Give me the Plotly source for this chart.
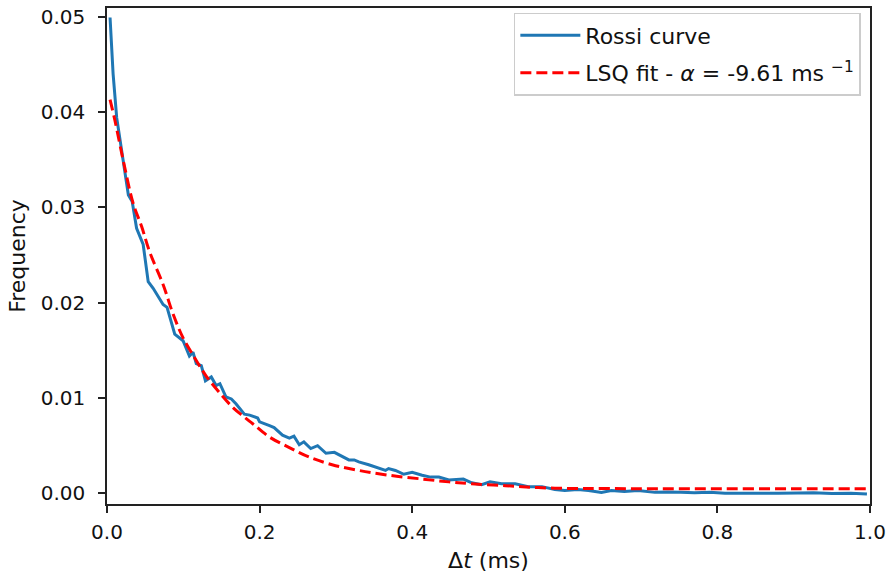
import plotly.graph_objects as go

# Rossi curve
rossi_t = [0.004, 0.008, 0.0127, 0.019, 0.028, 0.033, 0.0388, 0.0474, 0.054, 0.0605,
           0.0735, 0.0787, 0.0888, 0.0997, 0.108, 0.1127, 0.117, 0.1236, 0.129, 0.1367,
           0.143, 0.148, 0.156, 0.163, 0.169, 0.180, 0.187, 0.1975, 0.20, 0.213, 0.219,
           0.230, 0.239, 0.245, 0.252, 0.258, 0.267, 0.276, 0.287, 0.298, 0.311, 0.317,
           0.324, 0.330, 0.343, 0.356, 0.365, 0.369, 0.378, 0.389, 0.400, 0.413, 0.424,
           0.435, 0.448, 0.467, 0.478, 0.491, 0.502, 0.517, 0.535, 0.552, 0.570, 0.587,
           0.600, 0.617, 0.631, 0.648, 0.661, 0.678, 0.696, 0.718, 0.735, 0.752, 0.770,
           0.790, 0.810, 0.839, 0.860, 0.880, 0.905, 0.926, 0.950, 0.975, 0.996]
rossi_f = [0.0499, 0.0440, 0.0394, 0.0360, 0.0313, 0.0306, 0.0278, 0.0261, 0.0222, 0.0215,
           0.0198, 0.0195, 0.0167, 0.0160, 0.0144, 0.0148, 0.0136, 0.0134, 0.0118, 0.0122,
           0.0113, 0.0115, 0.0101, 0.0099, 0.0094, 0.0083, 0.0082, 0.0079, 0.0075, 0.0071, 0.0069,
           0.0061, 0.0058, 0.0060, 0.0051, 0.0054, 0.0047, 0.0050, 0.0042, 0.0043, 0.0038, 0.0035,
           0.0035, 0.0033, 0.0030, 0.0026, 0.0024, 0.0026, 0.0024, 0.0020, 0.0022, 0.0019, 0.0017,
           0.0017, 0.0014, 0.0015, 0.0011, 0.0009, 0.0012, 0.0010, 0.0010, 0.0007, 0.0007, 0.0004,
           0.0003, 0.0004, 0.0003, 0.0001, 0.0003, 0.0002, 0.0003, 0.0001, 0.00015, 0.0001, 0.00005,
           0.0001, 0.00002, 0.0000, 0.00004, 0.0000, 0.00003, 0.00006, -0.00002, 0.00002, -0.00007]

# LSQ fit curve
fit_t = [0.004, 0.0104, 0.0213, 0.0343, 0.0453, 0.056, 0.0735, 0.0866, 0.0997, 0.115,
         0.130, 0.147, 0.165, 0.180, 0.191, 0.213, 0.239, 0.265, 0.295, 0.330, 0.369,
         0.413, 0.448, 0.478, 0.522, 0.565, 0.609, 0.652, 0.718, 0.80, 0.90, 1.0]
fit_f = [0.0413, 0.0391, 0.0349, 0.0304, 0.0280, 0.0253, 0.0219, 0.0188, 0.0163, 0.0142,
         0.0123, 0.0106, 0.0090, 0.0080, 0.0073, 0.0059, 0.0048, 0.0038, 0.0030, 0.0024, 0.0019,
         0.0015, 0.0012, 0.0010, 0.0008, 0.0006, 0.0005, 0.0005, 0.00048, 0.00047, 0.00047, 0.00047]

x_ticks = [0.0, 0.2, 0.4, 0.6, 0.8, 1.0]
y_ticks = [0.00, 0.01, 0.02, 0.03, 0.04, 0.05]

fig = go.Figure()
fig.add_trace(go.Scatter(x=rossi_t, y=rossi_f, mode="lines", name="Rossi curve",
                         legendgroup="a",
                         line=dict(color="#1f77b4", width=3)))
fig.add_trace(go.Scatter(x=fit_t, y=fit_f, mode="lines",
                         name="LSQ fit - <i>α</i> = -9.61 ms <sup>−1</sup>",
                         legendgroup="b",
                         line=dict(color="red", width=3, dash="11px,5px", shape="spline")))

axis_common = dict(showline=True, linecolor="#222222", linewidth=1.6, mirror=True,
                   ticks="outside", ticklen=7, tickwidth=1.6, tickcolor="#222222",
                   showgrid=False, zeroline=False,
                   tickfont=dict(family="DejaVu Sans", size=20, color="#111111"))

fig.update_layout(
    width=891, height=581,
    margin=dict(l=107, r=18, t=5, b=77),
    paper_bgcolor="white", plot_bgcolor="white",
    font=dict(family="DejaVu Sans", size=20, color="#111111"),
    xaxis=dict(range=[0, 1.0], tickvals=x_ticks, ticktext=[f"{v:.1f}" for v in x_ticks],
               ticklabelstandoff=2,
               title=dict(text="Δ<i>t</i> (ms)", font=dict(size=22), standoff=10), **axis_common),
    yaxis=dict(range=[-0.00112, 0.0509], tickvals=y_ticks, ticktext=[f"{v:.2f}" for v in y_ticks],
               ticklabelstandoff=9,
               title=dict(text="Frequency", font=dict(size=22), standoff=9), **axis_common),
    legend=dict(x=0.988, y=0.99, xanchor="right", yanchor="top",
                bgcolor="rgba(255,255,255,0.8)", bordercolor="#cccccc", borderwidth=1.5,
                font=dict(family="DejaVu Sans", size=22, color="#111111"),
                itemwidth=60, tracegroupgap=6),
    showlegend=True,
)

fig.write_html("out.html")
